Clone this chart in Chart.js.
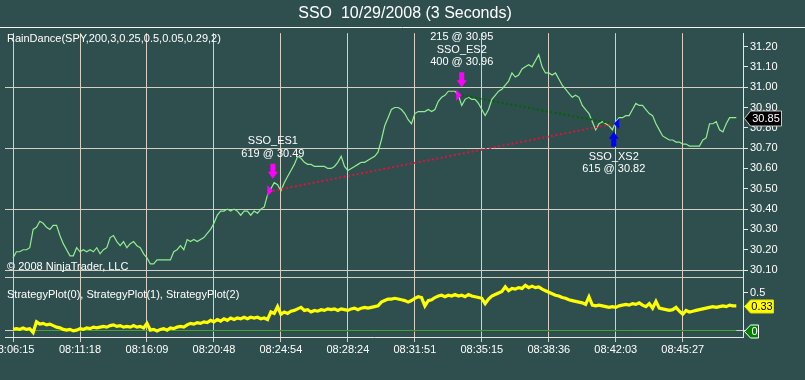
<!DOCTYPE html>
<html>
<head>
<meta charset="utf-8">
<script src="https://cdn.jsdelivr.net/npm/chart.js@4.4.1/dist/chart.umd.min.js"></script>
<style>
html,body{margin:0;padding:0;background:#2f4f4f;overflow:hidden}
#wrap{position:relative;width:805px;height:380px}
canvas{display:block}
</style>
</head>
<body>
<div id="wrap"><canvas id="c" width="805" height="380"></canvas></div>
<script>
// ---------------- data ----------------
const chartTitle = 'SSO  10/29/2008 (3 Seconds)';
const indicatorLabel = 'RainDance(SPY,200,3,0.25,0.5,0.05,0.29,2)';
const copyrightLabel = '\u00A9 2008 NinjaTrader, LLC';
const plotLabel = 'StrategyPlot(0), StrategyPlot(1), StrategyPlot(2)';

const timeLabels = ['08:06:15','08:11:18','08:16:09','08:20:48','08:24:54','08:28:24','08:31:51','08:35:15','08:38:36','08:42:03','08:45:27'];
const barsPerLabel = 100;   // bars between time labels
const barStep = 5;          // bars between stored samples

const price = [
30.16,30.19,30.19,30.20,30.20,30.21,30.30,30.31,30.34,30.33,
30.31,30.30,30.32,30.32,30.27,30.23,30.20,30.17,30.17,30.21,
30.19,30.20,30.19,30.20,30.19,30.21,30.18,30.20,30.21,30.26,
30.27,30.24,30.22,30.24,30.21,30.23,30.24,30.22,30.21,30.18,
30.16,30.13,30.13,30.15,30.15,30.15,30.15,30.15,30.19,30.20,
30.22,30.20,30.25,30.24,30.25,30.24,30.25,30.26,30.28,30.30,
30.33,30.37,30.39,30.39,30.40,30.39,30.40,30.39,30.37,30.39,
30.39,30.37,30.39,30.38,30.40,30.41,30.47,30.50,30.53,30.52,
30.49,30.53,30.56,30.59,30.62,30.66,30.65,30.63,30.62,30.62,
30.61,30.61,30.61,30.61,30.60,30.60,30.61,30.63,30.66,30.61,
30.59,30.60,30.61,30.62,30.63,30.63,30.64,30.65,30.66,30.68,
30.74,30.81,30.85,30.89,30.90,30.90,30.89,30.87,30.84,30.82,
30.87,30.88,30.88,30.88,30.89,30.88,30.89,30.93,30.95,30.96,
30.98,30.98,30.98,30.96,30.91,30.94,30.95,30.94,30.94,30.92,
30.89,30.86,30.89,30.94,30.96,30.98,30.99,31.01,31.03,31.07,
31.05,31.06,31.09,31.10,31.11,31.10,31.13,31.16,31.10,31.07,
31.07,31.06,31.07,31.04,31.01,30.99,30.97,30.95,30.96,30.95,
30.91,30.89,30.87,30.83,30.79,30.82,30.83,30.82,30.81,30.79,
30.83,30.85,30.85,30.86,30.86,30.89,30.92,30.91,30.91,30.89,
30.87,30.86,30.82,30.79,30.76,30.75,30.74,30.74,30.73,30.73,
30.72,30.72,30.71,30.71,30.71,30.71,30.74,30.75,30.82,30.82,
30.83,30.79,30.78,30.82,30.85,30.85,30.85
];

const strategyPlot0 = [
0.02,0.03,0.02,0.04,0.02,0.03,-0.02,0.12,0.09,0.10,
0.08,0.09,0.07,0.05,0.04,0.02,0.01,0.02,0.00,0.01,
0.03,0.02,0.04,0.03,0.05,0.04,0.05,0.06,0.05,0.07,
0.08,0.06,0.07,0.05,0.06,0.05,0.07,0.05,0.06,0.04,
0.10,0.01,0.02,0.00,0.02,0.03,0.01,0.04,0.03,0.05,
0.06,0.05,0.08,0.10,0.09,0.11,0.10,0.12,0.11,0.14,
0.12,0.15,0.13,0.16,0.14,0.17,0.15,0.17,0.16,0.18,
0.16,0.18,0.17,0.18,0.16,0.17,0.15,0.25,0.23,0.32,
0.22,0.25,0.23,0.26,0.27,0.29,0.31,0.27,0.28,0.25,
0.27,0.26,0.28,0.27,0.29,0.28,0.29,0.27,0.29,0.28,
0.27,0.29,0.30,0.28,0.30,0.31,0.30,0.31,0.32,0.33,
0.38,0.40,0.42,0.42,0.43,0.42,0.41,0.40,0.38,0.40,
0.43,0.45,0.44,0.33,0.40,0.41,0.44,0.46,0.47,0.45,
0.47,0.46,0.48,0.46,0.47,0.45,0.48,0.46,0.45,0.44,
0.43,0.36,0.42,0.46,0.48,0.50,0.52,0.58,0.53,0.56,
0.55,0.57,0.56,0.60,0.57,0.59,0.57,0.58,0.55,0.53,
0.51,0.49,0.47,0.46,0.44,0.43,0.41,0.40,0.39,0.38,
0.37,0.35,0.45,0.34,0.33,0.34,0.33,0.32,0.31,0.32,
0.31,0.33,0.34,0.35,0.34,0.36,0.35,0.37,0.34,0.32,
0.36,0.30,0.39,0.30,0.29,0.28,0.27,0.28,0.31,0.26,
0.22,0.27,0.25,0.26,0.27,0.28,0.29,0.30,0.31,0.32,
0.31,0.32,0.33,0.32,0.34,0.33,0.33
];
const strategyPlot1Level = 0;

const priceTicks = [30.10, 30.20, 30.30, 30.40, 30.50, 30.60, 30.70, 30.80, 30.90, 31.00, 31.10, 31.20];
const priceGridTicks = [30.10, 30.40, 30.70, 31.00];
const plotTicks = [0, 0.5];

const entryBars = [388, 670];
const entryPrices = [30.49, 30.96];
const entryLabels = [['SSO_ES1', '619 @ 30.49'], ['215 @ 30.95', 'SSO_ES2', '400 @ 30.96']];
const exitBars = [897];
const exitPrices = [30.82];
const exitLabels = [['SSO_XS2', '615 @ 30.82']];

// ---------------- style ----------------
const bgColor = '#2f4f4f';
const gridColor = '#d6d0c4';
const axisColor = '#e6e6e6';
const textColor = '#ffffff';
const fontFamily = "'Liberation Sans', Arial, sans-serif";

const pricePoints = price.map((v, i) => ({x: i * barStep, y: v}));
const plotPoints = strategyPlot0.map((v, i) => ({x: i * barStep, y: v}));
const lastBar = (price.length - 1) * barStep;

function near(a, b) { return Math.abs(a - b) < 1e-6; }

function drawArrow(ctx, x, tip, dir, color) {
  ctx.fillStyle = color;
  ctx.beginPath();
  ctx.moveTo(x, tip);
  ctx.lineTo(x + 5, tip + dir * 7);
  ctx.lineTo(x + 2.5, tip + dir * 7);
  ctx.lineTo(x + 2.5, tip + dir * 15);
  ctx.lineTo(x - 2.5, tip + dir * 15);
  ctx.lineTo(x - 2.5, tip + dir * 7);
  ctx.lineTo(x - 5, tip + dir * 7);
  ctx.closePath();
  ctx.fill();
}

function valueTag(ctx, x, y, w, h, fill, stroke, tcol, text) {
  ctx.beginPath();
  ctx.moveTo(x, y);
  ctx.lineTo(x + 6, y - h / 2);
  ctx.lineTo(x + w, y - h / 2);
  ctx.lineTo(x + w, y + h / 2);
  ctx.lineTo(x + 6, y + h / 2);
  ctx.closePath();
  ctx.fillStyle = fill;
  ctx.fill();
  ctx.strokeStyle = stroke;
  ctx.lineWidth = 1;
  ctx.stroke();
  ctx.fillStyle = tcol;
  ctx.textAlign = 'center';
  ctx.textBaseline = 'middle';
  ctx.fillText(text, x + 6 + (w - 6) / 2, y + 0.5);
}

function windowExt(bar, fn) {
  const k = Math.round(bar / barStep);
  return fn(...price.slice(Math.max(0, k - 2), k + 3));
}

const paintPlugin = {
  id: 'paint',
  beforeDraw(chart) {
    const {ctx, width, height, chartArea} = chart;
    ctx.save();
    ctx.fillStyle = bgColor;
    ctx.fillRect(0, 0, width, height);
    ctx.strokeStyle = '#ffffff';
    ctx.lineWidth = 1;
    const ly = Math.round(chartArea.top) - 6 + 0.5;
    ctx.beginPath(); ctx.moveTo(0, ly); ctx.lineTo(width, ly); ctx.stroke();
    ctx.restore();
  },
  afterDatasetsDraw(chart) {
    const {ctx, chartArea} = chart;
    const xs = chart.scales.x, ys = chart.scales.y, y2 = chart.scales.y2;
    ctx.save();
    ctx.font = '11px ' + fontFamily;
    ctx.fillStyle = textColor;
    ctx.textAlign = 'left';
    ctx.textBaseline = 'middle';
    ctx.fillText(indicatorLabel, chartArea.left + 2, ys.top + 6);
    ctx.fillText(copyrightLabel, chartArea.left + 2, ys.bottom - 10);
    ctx.fillText(plotLabel, chartArea.left + 2, y2.top + 18);

    // entries
    entryBars.forEach((bar, i) => {
      const x = xs.getPixelForValue(bar);
      const yE = ys.getPixelForValue(entryPrices[i]);
      ctx.fillStyle = '#ff00ff';
      ctx.beginPath();
      ctx.moveTo(x, yE); ctx.lineTo(x - 5.5, yE - 5.5); ctx.lineTo(x - 5.5, yE + 5.5); ctx.closePath();
      ctx.fill();
      const tip = ys.getPixelForValue(windowExt(bar, Math.max)) - 4;
      drawArrow(ctx, x, tip, -1, '#ff00ff');
      ctx.fillStyle = textColor;
      ctx.textAlign = 'center';
      const lines = entryLabels[i];
      let cy = tip - 15 - 10;
      for (let j = lines.length - 1; j >= 0; j--) { ctx.fillText(lines[j], x, cy); cy -= 12.5; }
    });
    // exits
    exitBars.forEach((bar, i) => {
      const x = xs.getPixelForValue(bar);
      const yX = ys.getPixelForValue(exitPrices[i]);
      ctx.fillStyle = '#0000ff';
      ctx.beginPath();
      ctx.moveTo(x, yX); ctx.lineTo(x + 5.5, yX - 5.5); ctx.lineTo(x + 5.5, yX + 5.5); ctx.closePath();
      ctx.fill();
      const tip = ys.getPixelForValue(windowExt(bar, Math.min)) + 2;
      drawArrow(ctx, x, tip, 1, '#0000ff');
      ctx.fillStyle = textColor;
      ctx.textAlign = 'center';
      const lines = exitLabels[i];
      let cy = tip + 15 + 10;
      for (let j = 0; j < lines.length; j++) { ctx.fillText(lines[j], x, cy); cy += 12.5; }
    });
    ctx.restore();
  },
  afterDraw(chart) {
    const {ctx, chartArea} = chart;
    const ys = chart.scales.y, y2 = chart.scales.y2;
    ctx.save();
    // panel separator
    ctx.strokeStyle = gridColor;
    ctx.lineWidth = 1;
    const sy = Math.round(y2.top) + 0.5;
    ctx.beginPath(); ctx.moveTo(chartArea.left, sy); ctx.lineTo(chartArea.right, sy); ctx.stroke();
    ctx.font = '11px ' + fontFamily;
    const tx = chartArea.right + 1.5;
    const lastPrice = price[price.length - 1];
    valueTag(ctx, tx, Math.round(ys.getPixelForValue(lastPrice)) + 0.5, 37, 15, '#000000', '#c8c8c8', '#ffffff', lastPrice.toFixed(2));
    const lastPlot = strategyPlot0[strategyPlot0.length - 1];
    valueTag(ctx, tx, Math.round(y2.getPixelForValue(lastPlot)) + 0.5, 29, 13, '#ffff00', '#e0e000', '#000000', lastPlot.toFixed(2));
    valueTag(ctx, tx, Math.round(y2.getPixelForValue(strategyPlot1Level)) + 0.5, 14, 13, '#008000', '#ffffff', '#ffffff', String(strategyPlot1Level));
    ctx.restore();
  }
};

const tickFont = {family: fontFamily, size: 11};

new Chart(document.getElementById('c'), {
  type: 'line',
  data: {
    datasets: [
      {data: pricePoints, yAxisID: 'y', borderColor: '#90ee90', borderWidth: 1.2, pointRadius: 0, tension: 0, order: 3},
      {data: [{x: entryBars[0], y: entryPrices[0]}, {x: exitBars[0], y: exitPrices[0]}], yAxisID: 'y',
       borderColor: '#dc143c', borderWidth: 2, borderDash: [2, 2.5], pointRadius: 0, order: 1},
      {data: [{x: entryBars[1], y: entryPrices[1]}, {x: exitBars[0], y: exitPrices[0]}], yAxisID: 'y',
       borderColor: '#006400', borderWidth: 2, borderDash: [2, 2.5], pointRadius: 0, order: 2},
      {data: [{x: 0, y: strategyPlot1Level}, {x: lastBar, y: strategyPlot1Level}], yAxisID: 'y2',
       borderColor: '#006a00', borderWidth: 1, pointRadius: 0, order: 5},
      {data: plotPoints, yAxisID: 'y2', borderColor: '#ffff00', borderWidth: 3.2, pointRadius: 0, tension: 0, order: 4}
    ]
  },
  options: {
    responsive: false,
    animation: false,
    devicePixelRatio: 1,
    events: [],
    layout: {padding: {left: 5, right: 0, top: 0, bottom: 0}},
    plugins: {
      legend: {display: false},
      tooltip: {enabled: false},
      title: {
        display: true, text: chartTitle, color: textColor,
        font: {family: fontFamily, size: 16, weight: 'normal', lineHeight: 1.2},
        padding: {top: 4, bottom: 10}
      }
    },
    scales: {
      x: {
        type: 'linear', position: 'bottom', min: -12, max: 1090,
        afterBuildTicks: s => { s.ticks = timeLabels.map((_, i) => ({value: i * barsPerLabel})); },
        afterFit: s => { s.height = 43; s.paddingLeft = 0; s.paddingRight = 0; },
        grid: {color: gridColor, tickColor: gridColor, tickLength: 5, lineWidth: 1},
        border: {display: true, color: axisColor},
        ticks: {
          color: textColor, font: tickFont, padding: 1, autoSkip: false, maxRotation: 0, minRotation: 0,
          callback: v => timeLabels[Math.round(v / barsPerLabel)]
        }
      },
      y: {
        type: 'linear', position: 'right', stack: 'panes', stackWeight: 244,
        min: 30.0656, max: 31.2656,
        afterBuildTicks: s => { s.ticks = priceTicks.map(v => ({value: v})); },
        afterFit: s => { s.width = 62; },
        grid: {
          color: c => priceGridTicks.some(t => near(t, c.tick.value)) ? gridColor : 'rgba(0,0,0,0)',
          tickColor: axisColor, tickLength: 5
        },
        border: {display: true, color: axisColor},
        ticks: {color: textColor, font: tickFont, padding: 2, autoSkip: false,
                callback: v => v.toFixed(2)}
      },
      y2: {
        type: 'linear', position: 'right', stack: 'panes', stackWeight: 60,
        min: -0.08, max: 0.71,
        afterBuildTicks: s => { s.ticks = plotTicks.map(v => ({value: v})); },
        afterFit: s => { s.width = 62; },
        grid: {
          color: c => near(c.tick.value, 0) ? gridColor : 'rgba(0,0,0,0)',
          tickColor: axisColor, tickLength: 5
        },
        border: {display: true, color: axisColor},
        ticks: {color: textColor, font: tickFont, padding: 2,
                callback: v => (near(v, 0) ? '' : String(v))}
      }
    }
  },
  plugins: [paintPlugin]
});
</script>
</body>
</html>
